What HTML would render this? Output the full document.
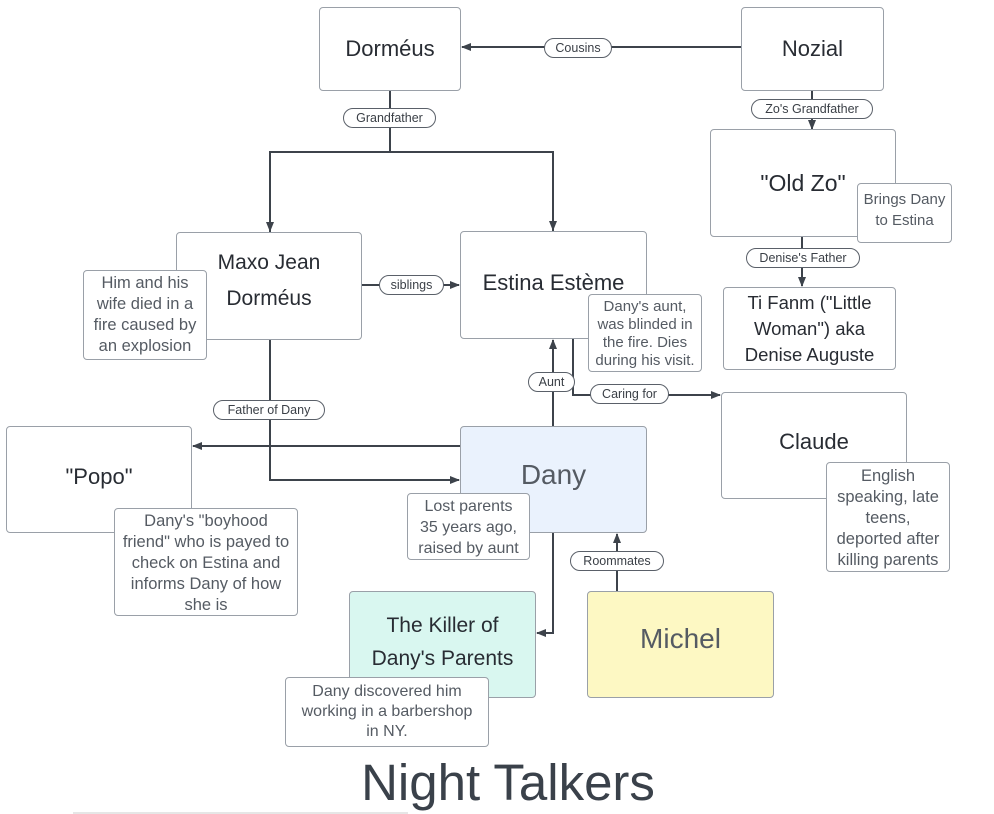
<!DOCTYPE html>
<html><head><meta charset="utf-8"><style>
body{margin:0;width:994px;height:814px;background:#fff;position:relative;overflow:hidden;font-family:"Liberation Sans",sans-serif;color:#282c33}
.b{position:absolute;border:1px solid #9aa0a8;border-radius:4px;background:#fff;display:flex;align-items:center;justify-content:center;text-align:center;box-sizing:border-box}
.n{position:absolute;border:1px solid #9aa0a8;border-radius:4px;background:#fff;text-align:center;box-sizing:border-box;color:#555b63;font-size:16.5px;line-height:21px;padding:2px 6px 0}
.p{position:absolute;border:1px solid #5a6069;border-radius:10px;background:#fff;text-align:center;box-sizing:border-box;font-size:12.5px;line-height:18px;color:#3a3f46}
</style></head><body>
<svg width="994" height="814" style="position:absolute;left:0;top:0">
<defs><marker id="a" markerWidth="10" markerHeight="10" refX="9" refY="5" orient="auto" markerUnits="userSpaceOnUse"><path d="M0,1 L10,5 L0,9z" fill="#3d434b"/></marker></defs>
<g stroke="#3d434b" stroke-width="2" fill="none">
<path d="M741,47 H462" marker-end="url(#a)"/>
<path d="M390,91 V152 M270,232 V152 H553 V231" />
<path d="M270,152 V231" marker-end="url(#a)"/><path d="M553,152 V230" marker-end="url(#a)"/>
<path d="M812,91 V129" marker-end="url(#a)"/>
<path d="M802,237 V286" marker-end="url(#a)"/>
<path d="M362,285 H459" marker-end="url(#a)"/>
<path d="M270,340 V480 H459" marker-end="url(#a)"/>
<path d="M460,446 H193" marker-end="url(#a)"/>
<path d="M553,426 V340" marker-end="url(#a)"/>
<path d="M573,339 V395 H720" marker-end="url(#a)"/>
<path d="M553,533 V633 H537" marker-end="url(#a)"/>
<path d="M617,591 V534" marker-end="url(#a)"/>
</g>
<line x1="73" y1="813" x2="408" y2="813" stroke="#ccc" stroke-width="1"/>
</svg>
<div class="b" style="left:319px;top:7px;width:142px;height:84px;font-size:22px">Dorméus</div>
<div class="b" style="left:741px;top:7px;width:143px;height:84px;font-size:22px">Nozial</div>
<div class="p" style="left:544px;top:38px;width:68px;height:20px">Cousins</div>
<div class="p" style="left:343px;top:108px;width:93px;height:20px">Grandfather</div>
<div class="p" style="left:751px;top:99px;width:122px;height:20px">Zo's Grandfather</div>
<div class="b" style="left:176px;top:232px;width:186px;height:108px;font-size:21px;line-height:36px;align-items:flex-start;padding-top:12px">Maxo Jean<br>Dorméus</div>
<div class="b" style="left:460px;top:231px;width:187px;height:108px;font-size:22px;align-items:flex-start;padding-top:38px">Estina Estème</div>
<div class="b" style="left:710px;top:129px;width:186px;height:108px;font-size:23px;align-items:flex-start;padding-top:40px">"Old Zo"</div>
<div class="n" style="left:857px;top:183px;width:95px;height:60px;padding:5px 1px 0;font-size:15px">Brings Dany to Estina</div>
<div class="p" style="left:746px;top:248px;width:114px;height:20px">Denise's Father</div>
<div class="b" style="left:723px;top:287px;width:173px;height:83px;font-size:18.5px;line-height:26px;padding:0 8px">Ti Fanm ("Little Woman") aka Denise Auguste</div>
<div class="p" style="left:379px;top:275px;width:65px;height:20px">siblings</div>
<div class="n" style="left:83px;top:270px;width:124px;height:90px;padding-top:2px">Him and his wife died in a fire caused by an explosion</div>
<div class="n" style="left:588px;top:294px;width:114px;height:78px;font-size:15px;line-height:18px;padding:3px 6px 0">Dany's aunt, was blinded in the fire. Dies during his visit.</div>
<div class="p" style="left:213px;top:400px;width:112px;height:20px">Father of Dany</div>
<div class="p" style="left:528px;top:372px;width:47px;height:20px">Aunt</div>
<div class="p" style="left:590px;top:384px;width:79px;height:20px">Caring for</div>
<div class="b" style="left:721px;top:392px;width:186px;height:107px;font-size:22px;align-items:flex-start;padding-top:36px">Claude</div>
<div class="n" style="left:826px;top:462px;width:124px;height:110px;padding:3px 6px 0;line-height:21px">English speaking, late teens, deported after killing parents</div>
<div class="b" style="left:6px;top:426px;width:186px;height:107px;font-size:22px;align-items:flex-start;padding-top:37px">"Popo"</div>
<div class="n" style="left:114px;top:508px;width:184px;height:108px;padding:2px 5px 0">Dany's "boyhood friend" who is payed to check on Estina and informs Dany of how she is</div>
<div class="b" style="left:460px;top:426px;width:187px;height:107px;font-size:28px;background:#eaf2fd;color:#555b63;align-items:flex-start;padding-top:32px">Dany</div>
<div class="n" style="left:407px;top:493px;width:123px;height:67px;padding:2px 6px 0;font-size:16px">Lost parents 35 years ago, raised by aunt</div>
<div class="p" style="left:570px;top:551px;width:94px;height:20px">Roommates</div>
<div class="b" style="left:349px;top:591px;width:187px;height:107px;font-size:21px;line-height:33px;background:#d9f7f0;align-items:flex-start;padding-top:17px">The Killer of<br>Dany's Parents</div>
<div class="b" style="left:587px;top:591px;width:187px;height:107px;font-size:28px;background:#fdf8c3;color:#555b63;align-items:flex-start;padding-top:31px">Michel</div>
<div class="n" style="left:285px;top:677px;width:204px;height:70px;padding:4px 8px 0;line-height:20px;font-size:16px">Dany discovered him working in a barbershop in NY.</div>
<div style="position:absolute;left:0;width:1016px;top:753px;text-align:center;font-size:51px;color:#3a414a;line-height:60px">Night Talkers</div>
</body></html>
